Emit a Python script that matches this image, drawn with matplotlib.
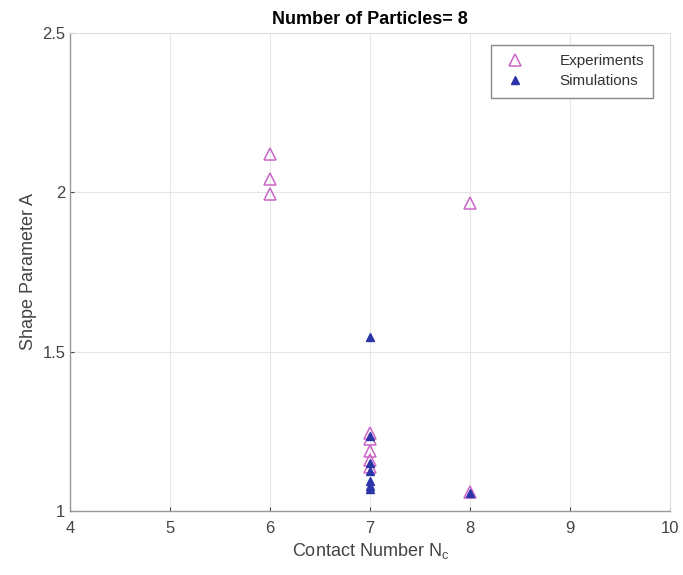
import matplotlib.pyplot as plt

plt.rcParams['font.family'] = ['Liberation Sans', 'DejaVu Sans']

# data
exp_nc = [6, 6, 6, 8, 7, 7, 7, 7, 7, 8]
exp_a = [2.12, 2.04, 1.995, 1.965, 1.245, 1.225, 1.19, 1.16, 1.14, 1.06]

sim_nc = [7, 7, 7, 7, 7, 7, 7, 8]
sim_a = [1.545, 1.235, 1.15, 1.125, 1.095, 1.08, 1.07, 1.058]

fig = plt.figure(figsize=(6.83, 5.75), dpi=100)
ax = fig.add_axes([0.103, 0.111, 0.878, 0.832])

ax.plot(exp_nc, exp_a, linestyle="none", marker="^", markersize=9,
        markerfacecolor="none", markeredgecolor="#cc66c8", markeredgewidth=1.1,
        label="Experiments")
ax.plot(sim_nc, sim_a, linestyle="none", marker="^", markersize=6,
        color="#2b35a8", label="Simulations")

ax.set_xlim(4, 10)
ax.set_ylim(1, 2.5)
ax.set_xticks(range(4, 11))
ax.set_yticks([1, 1.5, 2, 2.5])
ax.set_yticklabels(["1", "1.5", "2", "2.5"])
ax.grid(True, color="#e6e6e6", linewidth=0.8)
ax.set_axisbelow(True)
for side in ["left", "bottom"]:
    ax.spines[side].set_color("#999999")
    ax.spines[side].set_linewidth(1.0)
for side in ["top", "right"]:
    ax.spines[side].set_color("#e0e0e0")
    ax.spines[side].set_linewidth(0.8)
ax.tick_params(labelsize=12, colors="#444444", direction="in", length=3)
ax.tick_params(axis="x", pad=7)

ax.set_xlabel("Contact Number N$_\\mathregular{c}$", fontsize=13, color="#444444")
ax.set_ylabel("Shape Parameter A", fontsize=13, color="#444444")
ax.set_title("Number of Particles= 8", fontsize=13, fontweight="bold", pad=6)
leg = ax.legend(loc="upper right", fontsize=11, fancybox=False, edgecolor="#888888",
                handletextpad=1.9, borderpad=0.6, labelspacing=0.4, framealpha=1,
                bbox_to_anchor=(0.985, 0.99))
for t in leg.get_texts():
    t.set_color("#333333")

fig.savefig("out.png", dpi=100)
